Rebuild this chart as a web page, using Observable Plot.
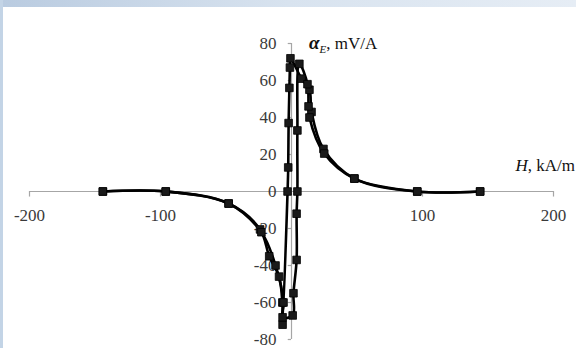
<!DOCTYPE html>
<html>
<head>
<meta charset="utf-8">
<script src="https://cdn.jsdelivr.net/npm/d3@7"></script>
<script src="https://cdn.jsdelivr.net/npm/@observablehq/plot@0.6"></script>
<style>
  html, body { margin: 0; padding: 0; background: #fff; }
  #wrap { position: relative; width: 576px; height: 348px; overflow: hidden; }
  #chart { position: absolute; left: 0; top: 0; }
  #chart svg text { font-family: "Liberation Serif", "DejaVu Serif", serif !important; }
  #topbar { position: absolute; left: 0; top: 0; width: 576px; height: 7px;
            background: linear-gradient(to right, #b9cbe0, #d8e3ef 50%, #e6edf5); }
  #leftbar { position: absolute; left: 0; top: 0; width: 3px; height: 348px; background: #c3d4e6; }
  #err { position: absolute; left: 10px; top: 10px; font: 12px monospace; color: red; }
</style>
</head>
<body>
<div id="wrap"><div id="chart"></div><div id="topbar"></div><div id="leftbar"></div><div id="err"></div></div>
<script>
// Forward sweep (increasing H)
const forwardH = [-144, -96, -48, -24, -17, -9.5, -7, -6.8, -3, -2.5, -2.2, -1.6, -1.2, -0.8, 7.6, 13.7, 15.3, 24.4, 48, 96, 144];
const forwardA = [0, 0, -6.5, -20.5, -35, -46, -60, -72, 0, 13, 37, 56, 67, 72, 61, 55, 43, 23, 7, 0, 0];
// Reverse sweep (decreasing H)
const reverseH = [144, 96, 48, 25, 13.7, 13, 12.2, 6, 4.5, 4.5, 3.9, 3.9, 1.5, 0.9, -6.8, -6.1, -12.2, -23, -48, -96, -144];
const reverseA = [0, 0, 7, 20.5, 40, 46, 58, 69, 33, 0, -12, -37, -55, -67, -68, -60, -40, -22, -6.5, 0, 0];

const xTicks = [-200, -100, 100, 200];
const yTicks = [80, 60, 40, 20, 0, -20, -40, -60, -80];

try {
const fwd = forwardH.map((h, i) => ({H: h, A: forwardA[i]}));
const rev = reverseH.map((h, i) => ({H: h, A: reverseA[i]}));

const axisColor = "#a6a6a6";
const labelColor = "#3a3a3a";
const serif = "Liberation Serif";

const chart = Plot.plot({
  width: 576,
  height: 348,
  marginLeft: 29,
  marginRight: 23,
  marginTop: 43,
  marginBottom: 9,
  x: {domain: [-200, 200], axis: null},
  y: {domain: [-80, 80], axis: null},
  style: {background: "#fff", fontFamily: serif, overflow: "visible"},
  marks: [
    Plot.ruleY([0], {x1: -200, x2: 200, stroke: axisColor, strokeWidth: 1.2}),
    Plot.ruleX([0], {y1: -80, y2: 80, stroke: axisColor, strokeWidth: 1.2}),
    Plot.ruleX(xTicks, {x: d => d, y1: 0, y2: -3, stroke: axisColor, strokeWidth: 1.2}),
    Plot.ruleY(yTicks, {y: d => d, x1: 0, x2: -2.5, stroke: axisColor, strokeWidth: 1.2}),
    Plot.text(xTicks, {x: d => d, y: 0, dy: 24, text: d => String(d), fontSize: 17, fontFamily: serif, fill: labelColor}),
    Plot.text(yTicks, {x: 0, y: d => d, dx: -15, textAnchor: "end", text: d => String(d), fontSize: 17, fontFamily: serif, fill: labelColor}),
    Plot.line(fwd, {x: "H", y: "A", curve: "catmull-rom", stroke: "#000", strokeWidth: 2.6}),
    Plot.line(rev, {x: "H", y: "A", curve: "catmull-rom", stroke: "#000", strokeWidth: 2.6}),
    Plot.dot(fwd, {x: "H", y: "A", symbol: "square", r: 4.3, fill: "#1a1a1a", stroke: "#000", strokeWidth: 0.8}),
    Plot.dot(rev, {x: "H", y: "A", symbol: "square", r: 4.3, fill: "#1a1a1a", stroke: "#000", strokeWidth: 0.8})
  ]
});

document.getElementById("chart").appendChild(chart);

const svg = d3.select(chart);
const t1 = svg.append("text")
  .attr("x", 309).attr("y", 49)
  .attr("text-anchor", "start")
  .attr("font-family", serif)
  .attr("font-size", 17).attr("fill", "#111");
t1.append("tspan").attr("font-style", "italic").attr("font-weight", "bold").attr("font-size", 19).text("α");
t1.append("tspan").attr("font-style", "italic").attr("font-size", 11).attr("dy", 4).text("E");
t1.append("tspan").attr("dy", -4).text(", mV/A");
const t2 = svg.append("text")
  .attr("x", 575).attr("y", 171)
  .attr("text-anchor", "end")
  .attr("font-family", serif)
  .attr("font-size", 17).attr("fill", "#111");
t2.append("tspan").attr("font-style", "italic").text("H");
t2.append("tspan").text(", kA/m");
} catch (e) {
  document.getElementById("err").textContent = String(e && e.stack || e);
}
</script>
</body>
</html>
